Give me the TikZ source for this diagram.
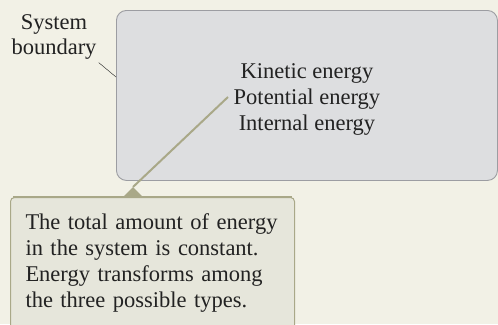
\documentclass[tikz,border=0pt]{standalone}
\usepackage{fontspec}
\setmainfont{Liberation Serif}
\usetikzlibrary{positioning}
\definecolor{paper}{HTML}{F2F1E6}
\definecolor{boxgray}{HTML}{DDDEE0}
\definecolor{edgegray}{HTML}{9C9DA2}
\definecolor{notefill}{HTML}{E6E6DB}
\definecolor{olive}{HTML}{A9A888}
\definecolor{ink}{HTML}{222222}
\tikzset{
  sysbox/.style={draw=edgegray,fill=boxgray,rounded corners=10pt,line width=0.9pt,
    align=center,minimum width=381pt,minimum height=170pt},
  notebox/.style={draw=olive,fill=notefill,rounded corners=4pt,line width=1pt,
    align=left,inner xsep=15pt,inner ysep=16pt,text width=254pt},
  pointer/.style={olive,line width=2pt}
}
\begin{document}
\begin{tikzpicture}[x=1pt,y=-1pt,font=\fontsize{22.5}{26}\selectfont,text=ink]
    \clip (0,0) rectangle (498,324);
    \fill[paper] (0,0) rectangle (498,324);

    % system and its label
    \node[sysbox,anchor=north west] (sys) at (116,10)
        {\rule{0pt}{22pt}Kinetic energy\\Potential energy\\Internal energy};
    \node[align=center,inner sep=0pt,font=\fontsize{22.5}{25}\selectfont] (lab) at (54,37) {System\\boundary};
    \coordinate (edge) at (116,77);
    \draw[ink,thin] ([shift={(2,3)}]lab.south east) -- (edge);

    % note with its pointer
    \node[notebox,anchor=north west] (note) at (10,197)
        {The total amount of energy\\in the system is constant.\\
         Energy transforms among\\the three possible types.\rule[-40pt]{0pt}{40pt}};
    \draw[olive,line width=2.5pt] ([xshift=3pt]note.north west) -- ([xshift=-3pt]note.north east);
    \coordinate (tip) at (133,187);
    \coordinate (pe) at (228,97);
    \fill[olive] (123,197) -- (tip) -- (143,197) -- cycle;
    \draw[pointer] (tip) -- (pe);
\end{tikzpicture}
\end{document}
